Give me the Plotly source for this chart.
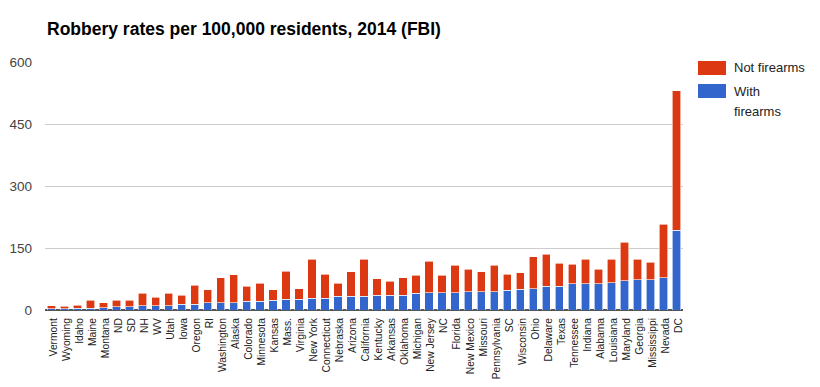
import plotly.graph_objects as go

states = ["Vermont", "Wyoming", "Idaho", "Maine", "Montana", "ND", "SD", "NH", "WV", "Utah",
          "Iowa", "Oregon", "RI", "Washington", "Alaska", "Colorado", "Minnesota", "Kansas", "Mass.",
          "Virginia", "New York", "Connecticut", "Nebraska", "Arizona", "California", "Kentucky",
          "Arkansas", "Oklahoma", "Michigan", "New Jersey", "NC", "Florida", "New Mexico", "Missouri",
          "Pennsylvania", "SC", "Wisconsin", "Ohio", "Delaware", "Texas", "Tennessee", "Indiana",
          "Alabama", "Louisiana", "Maryland", "Georgia", "Mississippi", "Nevada", "DC"]

totals = [10, 9, 12, 23, 17, 23, 23, 41, 31, 41,
          36, 60, 49, 78, 85, 57, 65, 49, 94,
          52, 123, 87, 65, 92, 123, 76,
          70, 78, 84, 118, 84, 108, 99, 92,
          108, 87, 90, 129, 135, 113, 111, 123,
          99, 123, 164, 123, 115, 208, 531]

with_firearms = [3, 3, 4, 4, 6, 8, 8, 10, 10, 10,
                 14, 14, 17, 18, 18, 21, 21, 23, 26,
                 26, 28, 28, 33, 33, 33, 36,
                 36, 36, 40, 42, 42, 42, 44, 44,
                 44, 48, 50, 52, 57, 57, 63, 63,
                 63, 66, 71, 73, 73, 78, 193]

not_firearms = [t - w for t, w in zip(totals, with_firearms)]

y_ticks = [0, 150, 300, 450, 600]

RED = "#dc3912"
BLUE = "#3366cc"

# the page body has an 8px margin; compensate so the chart lands where the reference has it
OFF = 8
W, H = 820, 387
L, R, T, B = 45, 683, 62, 310   # plot area in screen pixels

fig = go.Figure()
fig.add_trace(go.Bar(x=states, y=with_firearms, name="With firearms", showlegend=False,
                     marker=dict(color=BLUE, line=dict(color="white", width=0.6))))
fig.add_trace(go.Bar(x=states, y=not_firearms, name="Not firearms", showlegend=False,
                     marker=dict(color=RED, line=dict(color="white", width=0.6))))

PW, PH = float(R - L), float(B - T)
def px(x):
    return (x - L) / PW
def py(y):
    return (B - y) / PH

shapes = [
    dict(type="rect", xref="paper", yref="paper", x0=px(698), x1=px(726), y0=py(75), y1=py(61),
         fillcolor=RED, line=dict(width=0)),
    dict(type="rect", xref="paper", yref="paper", x0=px(698), x1=px(726), y0=py(98), y1=py(84),
         fillcolor=BLUE, line=dict(width=0)),
]
annotations = [
    dict(text="Not firearms", xref="paper", yref="paper", x=px(732), y=py(68),
         xanchor="left", yanchor="middle", showarrow=False, font=dict(size=13, color="#222")),
    dict(text="With", xref="paper", yref="paper", x=px(732), y=py(91),
         xanchor="left", yanchor="middle", showarrow=False, font=dict(size=13, color="#222")),
    dict(text="firearms", xref="paper", yref="paper", x=px(732), y=py(111),
         xanchor="left", yanchor="middle", showarrow=False, font=dict(size=13, color="#222")),
]

fig.update_layout(
    barmode="stack",
    bargap=0.36,
    width=W, height=H,
    margin=dict(l=L - OFF, r=W - (R - OFF), t=T - OFF, b=H - (B - OFF), pad=0),
    paper_bgcolor="white", plot_bgcolor="white",
    font=dict(family="Liberation Sans, Arial, sans-serif", color="#222"),
    title=dict(text="<b>Robbery rates per 100,000 residents, 2014 (FBI)</b>",
               x=(47 - OFF) / W, xref="container", xanchor="left",
               y=1 - (29 - OFF) / H, yref="container", yanchor="middle",
               pad=dict(l=0, r=0, t=0, b=0),
               font=dict(size=17.5, color="#000")),
    shapes=shapes,
    annotations=annotations,
    xaxis=dict(tickangle=-90, tickfont=dict(size=10.3, color="#222"), showgrid=False,
               ticks="", showline=False, tickmode="array", tickvals=states, ticktext=states,
               ticklabelstandoff=5, ticklabelshift=2, automargin=False),
    yaxis=dict(range=[0, 600], tickvals=y_ticks, showgrid=True, gridcolor="#cccccc",
               zeroline=True, zerolinecolor="#555555", zerolinewidth=1.5,
               tickfont=dict(size=13.5, color="#444"), ticks="", ticklabelstandoff=12,
               automargin=False),
)

fig.write_html("out.html")
